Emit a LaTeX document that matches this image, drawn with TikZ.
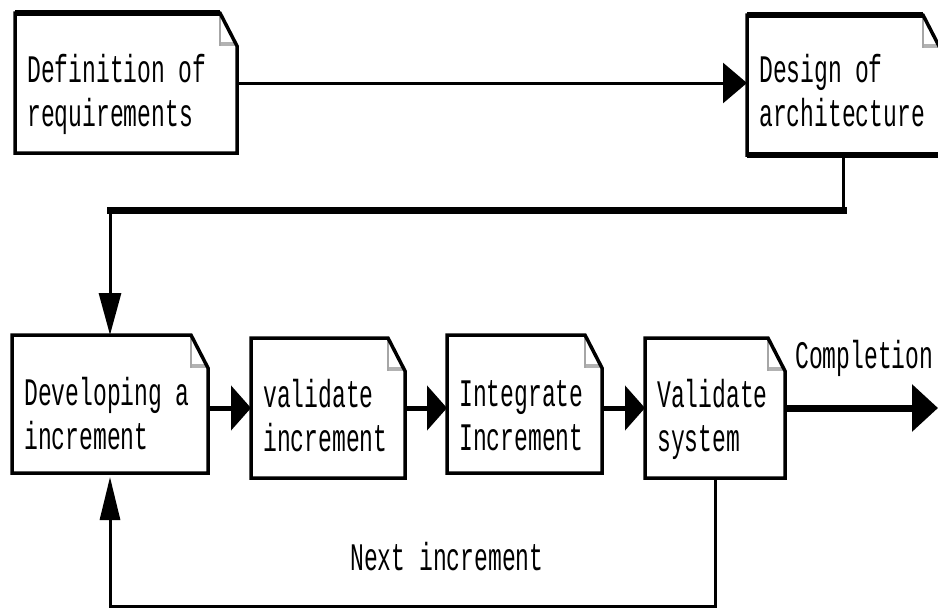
\documentclass[tikz,border=0pt]{standalone}
\usepackage{fontspec}
\newfontfamily\bmfont[FakeStretch=0.59]{Liberation Mono}
\usetikzlibrary{arrows.meta,calc}
\tikzset{
  boxnode/.style={inner sep=0pt, outer sep=0pt, anchor=north west, draw=none},
  boxline/.style={line width=3.5pt, line join=miter},
  foldedge/.style={draw=gray!70, line width=1.5pt},
  foldbar/.style={draw=gray!60, line width=4pt},
  lbl/.style={font=\bmfont\fontsize{39}{44}\selectfont, inner sep=0pt, anchor=base west, align=left},
  flow/.style={line width=5pt, -{Triangle[length=20pt,width=44pt]}},
  thinflow/.style={line width=3pt},
}
\newcommand\mydoc[7]{%
  \node[boxnode, minimum width=#4pt, minimum height=#5pt] (#1) at (#2,#3) {};
  \fill[white] ($(#1.north east)+(-17,0)$) -- ($(#1.north east)+(-17,33)$) -- ($(#1.north east)+(0,33)$) -- cycle;
  \draw[foldbar] ($(#1.north east)+(-17,31)$) -- ($(#1.north east)+(0,31)$);
  \draw[foldedge] ($(#1.north east)+(-17,0)$) -- ($(#1.north east)+(-17,33)$);
  \draw[boxline] (#1.north west) -- ($(#1.north east)+(-17,0)$) -- ($(#1.north east)+(0,33)$) -- (#1.south east) -- (#1.south west) -- cycle;
  \node[lbl, text width=#4pt] (#1-text) at ($(#1.north west)+(12,#6)$) {#7};
}
\begin{document}
\begin{tikzpicture}[x=1pt,y=-1pt]
\fill[white] (0,0) rectangle (938,608);
\useasboundingbox (0,0) rectangle (938,608);

\mydoc{b1}{15}{13}{222}{140}{69}{Definition of\\requirements}
\mydoc{b2}{747}{15}{193}{140}{67}{Design of\\architecture}
\mydoc{b3}{12}{335}{196}{138}{70}{Developing a\\increment}
\mydoc{b4}{251}{338}{154}{140}{69}{validate\\increment}
\mydoc{b5}{447}{335}{155}{138}{71}{Integrate\\Increment}
\mydoc{b6}{645}{338}{140}{140}{69}{Validate\\system}

% thick edges on upper boxes
\draw[line width=6pt] (b1.north west) -- ($(b1.north east)+(-17,0)$);
\draw[line width=6pt] (b2.north west) -- ($(b2.north east)+(-17,0)$);
\draw[line width=6pt] (b2.south west) -- (b2.south east);

% requirements -> architecture
\draw[line width=3pt, -{Triangle[length=24pt,width=40pt]}] (b1.east |- 0,83) -- (b2.west |- 0,83);

% architecture -> developing
\coordinate (c1) at (843,210);
\coordinate (c2) at (110,210);
\draw[line width=3pt] (b2.south -| c1) -- (c1);
\draw[line width=7pt, line cap=rect] (c1) -- (c2);
\draw[line width=3pt, -{Triangle[length=42pt,width=22pt]}] (c2) -- (c2 |- b3.north);

% chain
\draw[flow] (b3.east |- 0,408) -- (b4.west |- 0,408);
\draw[flow] (b4.east |- 0,408) -- (b5.west |- 0,408);
\draw[flow] (b5.east |- 0,408) -- (b6.west |- 0,408);

% completion
\coordinate (done) at (938,408);
\draw[line width=7pt, -{Triangle[length=26pt,width=46pt]}] (b6.east |- done) -- (done);
\node[lbl] (comp) at (795,368) {Completion};

% feedback loop
\coordinate (f1) at (715,606);
\coordinate (f2) at (110,606);
\draw[line width=3pt, -{Triangle[length=43pt,width=20pt]}] (b6.south -| f1) -- (f1) -- (f2) -- ($(b3.south -| f2)+(0,4)$);
\node[lbl] (next) at (350,570) {Next increment};
\end{tikzpicture}
\end{document}
